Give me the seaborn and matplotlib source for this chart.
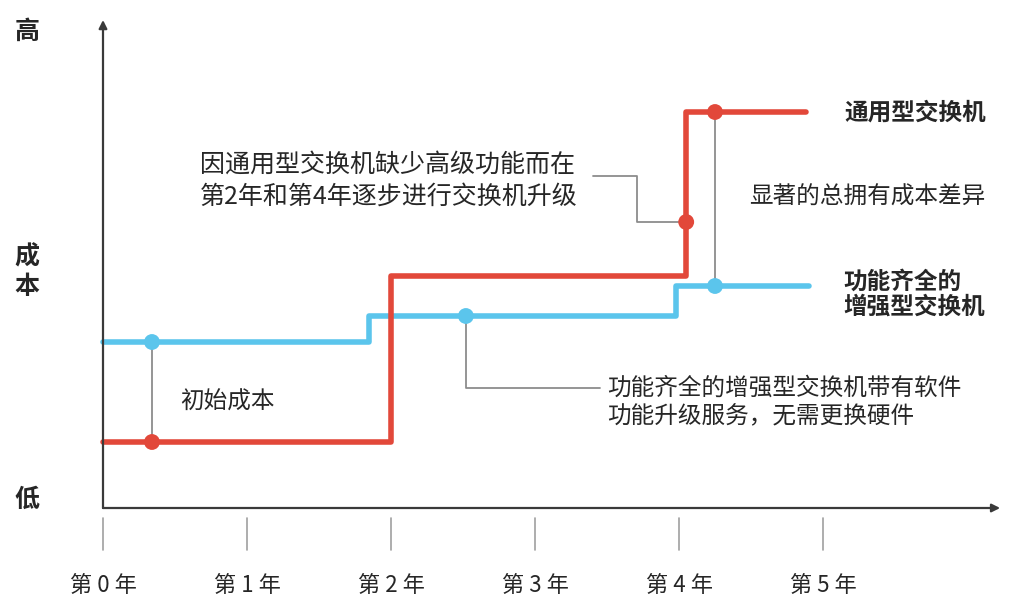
import seaborn as sns
import matplotlib.pyplot as plt

sns.set_style("white")
plt.rcParams['font.family'] = ['Noto Sans CJK SC', 'DejaVu Sans']

# step data: year where each cost level starts, cost level (arbitrary units)
red_years = [0, 2.0, 4.05, 4.88]
red_cost = [0.66, 2.32, 3.96, 3.96]
blue_years = [0, 1.85, 3.98, 4.90]
blue_cost = [1.66, 1.92, 2.22, 2.22]

year_ticks = [0, 1, 2, 3, 4, 5]
year_labels = ["第 0 年", "第 1 年", "第 2 年", "第 3 年", "第 4 年", "第 5 年"]

# highlighted points
red_pts_x = [0.34, 4.05, 4.25]
red_pts_y = [0.66, 2.86, 3.96]
blue_pts_x = [0.34, 2.52, 4.25]
blue_pts_y = [1.66, 1.92, 2.22]

RED = "#E2483A"
BLUE = "#5BC5EC"
GRAY = "#8c8c8c"

fig = plt.figure(figsize=(10.11, 5.99), dpi=100)
ax = fig.add_axes([0, 0, 1, 1])
ax.set_xlim(-103 / 144, 908 / 144)
ax.set_ylim(-0.91, 5.08)
ax.axis("off")

# gray callout lines (drawn first, under the steps)
ax.plot([0.34, 0.34], [0.66, 1.66], color=GRAY, lw=1.3, zorder=1)
ax.plot([2.52, 2.52, 3.45], [1.92, 1.20, 1.20], color=GRAY, lw=1.3, zorder=1)
ax.plot([4.05, 3.71, 3.71, 3.40], [2.86, 2.86, 3.32, 3.32], color=GRAY, lw=1.3, zorder=1)
ax.plot([4.25, 4.25], [2.22, 3.96], color=GRAY, lw=1.3, zorder=1)

sns.lineplot(x=blue_years, y=blue_cost, drawstyle="steps-post", color=BLUE,
             lw=4, ax=ax, zorder=2)
sns.lineplot(x=red_years, y=red_cost, drawstyle="steps-post", color=RED,
             lw=4, ax=ax, zorder=3)
sns.scatterplot(x=blue_pts_x, y=blue_pts_y, color=BLUE, s=130, edgecolor="none",
                ax=ax, zorder=4)
sns.scatterplot(x=red_pts_x, y=red_pts_y, color=RED, s=130, edgecolor="none",
                ax=ax, zorder=5)

# axes with arrows
arrow = dict(arrowstyle="-|>", color="#3a3a3a", lw=1.6, mutation_scale=12,
             shrinkA=0, shrinkB=0)
ax.annotate("", xy=(6.23, 0), xytext=(0, 0), arrowprops=arrow)
ax.annotate("", xy=(0, 4.88), xytext=(0, 0), arrowprops=arrow)

# detached tick marks and year labels
for yr, lab in zip(year_ticks, year_labels):
    ax.plot([yr, yr], [-0.10, -0.42], color="#a0a0a0", lw=1.2)
    ax.text(yr, -0.77, lab, ha="center", va="center", fontsize=16)

# cost axis labels
ax.text(-0.53, 4.76, "高", ha="center", va="center", fontsize=18, fontweight="bold")
ax.text(-0.53, 2.51, "成", ha="center", va="center", fontsize=18, fontweight="bold")
ax.text(-0.53, 2.21, "本", ha="center", va="center", fontsize=18, fontweight="bold")
ax.text(-0.53, 0.08, "低", ha="center", va="center", fontsize=18, fontweight="bold")

# annotations
ax.text(0.674, 3.43, "因通用型交换机缺少高级功能而在", va="center", fontsize=18)
ax.text(0.674, 3.11, "第2年和第4年逐步进行交换机升级", va="center", fontsize=18)
ax.text(0.535, 1.06, "初始成本", va="center", fontsize=17)
ax.text(3.50, 1.20, "功能齐全的增强型交换机带有软件", va="center", fontsize=17)
ax.text(3.50, 0.91, "功能升级服务，无需更换硬件", va="center", fontsize=17)
ax.text(4.49, 3.11, "显著的总拥有成本差异", va="center", fontsize=17)

# series labels
ax.text(5.15, 3.95, "通用型交换机", va="center", fontsize=17, fontweight="bold")
ax.text(5.14, 2.26, "功能齐全的", va="center", fontsize=17, fontweight="bold")
ax.text(5.14, 2.01, "增强型交换机", va="center", fontsize=17, fontweight="bold")

fig.savefig("out.png", dpi=100)
